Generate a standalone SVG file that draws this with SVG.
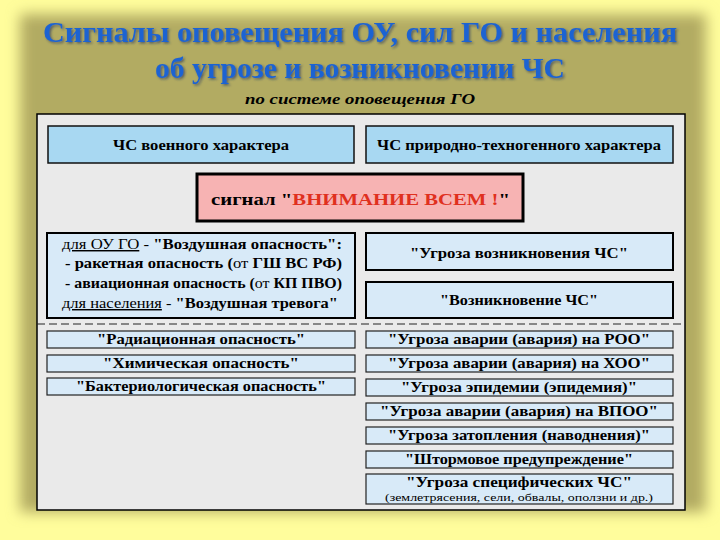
<svg xmlns="http://www.w3.org/2000/svg" width="720" height="540" viewBox="0 0 720 540">
<defs>
<filter id="blur" x="-10%" y="-10%" width="120%" height="120%"><feGaussianBlur stdDeviation="7"/></filter>
<filter id="tsh" x="-5%" y="-20%" width="110%" height="150%"><feDropShadow dx="1.5" dy="1.5" stdDeviation="1" flood-color="#1a2a60" flood-opacity="0.6"/></filter>
<style>
text{font-family:"Liberation Serif","DejaVu Serif","Times New Roman",serif;fill:#000;}
.b{font-weight:bold;}
.hdr{fill:#A8D8F2;stroke:#111;stroke-width:1.5;}
.big{fill:#D8EAF8;stroke:#000;stroke-width:2;}
.row{fill:#D8EAF8;stroke:#222;stroke-width:1.2;}
.c{text-anchor:middle;}
.ttl{fill:#1F63D2;}
</style>
</defs>
<rect width="720" height="540" fill="#FFFD9C"/>
<rect x="20" y="14" width="686" height="498" fill="#B2AB62" filter="url(#blur)"/>
<g id="title" font-family="Liberation Serif, DejaVu Serif, serif">
<text class="b c ttl" x="360" y="42" font-size="29" filter="url(#tsh)" textLength="634" lengthAdjust="spacingAndGlyphs">Сигналы  оповещения  ОУ,  сил  ГО  и  населения</text>
<text class="b c ttl" x="360" y="78" font-size="29" filter="url(#tsh)" textLength="410" lengthAdjust="spacingAndGlyphs">об  угрозе  и  возникновении  ЧС</text>
<text class="b c" x="360" y="104" font-size="14" font-style="italic" textLength="230" lengthAdjust="spacingAndGlyphs">по  системе  оповещения  ГО</text>
</g>
<rect id="panel" x="37" y="114" width="648" height="396" fill="#EAEAEA" stroke="#000" stroke-width="1.5"/>
<g id="connectors">
<line x1="37" y1="324" x2="685" y2="324" stroke="#222" stroke-width="1.2" stroke-dasharray="8,4"/>
</g>
<g id="hdr-military">
<rect class="hdr" x="48" y="126" width="306" height="37"/>
<text class="b c" x="201" y="150" font-size="14" textLength="176" lengthAdjust="spacingAndGlyphs">ЧС  военного  характера</text>
</g>
<g id="hdr-natural">
<rect class="hdr" x="366" y="126" width="307" height="37"/>
<text class="b c" x="519" y="150" font-size="14" textLength="284" lengthAdjust="spacingAndGlyphs">ЧС  природно-техногенного  характера</text>
</g>
<g id="signal">
<rect x="197" y="174" width="326" height="47" fill="#F7B3B3" stroke="#000" stroke-width="3"/>
<text class="b" x="211" y="205" font-size="17" textLength="299" lengthAdjust="spacingAndGlyphs">сигнал  "<tspan style="fill:#E0301E">ВНИМАНИЕ  ВСЕМ !</tspan>"</text>
</g>
<g id="air">
<rect class="big" x="47" y="233" width="308" height="85"/>
<text x="62" y="249" font-size="14.5" textLength="280" lengthAdjust="spacingAndGlyphs"><tspan text-decoration="underline">для ОУ ГО</tspan>  - <tspan font-weight="bold">"Воздушная  опасность":</tspan></text>
<text class="b" x="65" y="268" font-size="14.5" textLength="277" lengthAdjust="spacingAndGlyphs">- ракетная  опасность  (<tspan font-weight="normal">от</tspan>  ГШ ВС РФ)</text>
<text class="b" x="65" y="288" font-size="14.5" textLength="277" lengthAdjust="spacingAndGlyphs">- авиационная опасность (<tspan font-weight="normal">от</tspan> КП ПВО)</text>
<text x="62" y="308" font-size="14.5" textLength="276" lengthAdjust="spacingAndGlyphs"><tspan text-decoration="underline">для населения</tspan>  - <tspan font-weight="bold">"Воздушная тревога"</tspan></text>
</g>
<g id="threat">
<rect class="big" x="366" y="233" width="307" height="37"/>
<text class="b c" x="519" y="258" font-size="14" textLength="218" lengthAdjust="spacingAndGlyphs">"Угроза  возникновения  ЧС"</text>
</g>
<g id="occurrence">
<rect class="big" x="366" y="282" width="307" height="36"/>
<text class="b c" x="519" y="305" font-size="14" textLength="158" lengthAdjust="spacingAndGlyphs">"Возникновение  ЧС"</text>
</g>
<g id="l1"><rect class="row" x="47" y="331" width="308" height="17"/><text class="b c" x="201" y="344" font-size="14" textLength="208" lengthAdjust="spacingAndGlyphs">"Радиационная  опасность"</text></g>
<g id="l2"><rect class="row" x="47" y="355" width="308" height="17"/><text class="b c" x="201" y="368" font-size="14" textLength="196" lengthAdjust="spacingAndGlyphs">"Химическая  опасность"</text></g>
<g id="l3"><rect class="row" x="47" y="378" width="308" height="17"/><text class="b c" x="201" y="391" font-size="14" textLength="250" lengthAdjust="spacingAndGlyphs">"Бактериологическая  опасность"</text></g>
<g id="r1"><rect class="row" x="366" y="331" width="307" height="17"/><text class="b c" x="519" y="344" font-size="14" textLength="262" lengthAdjust="spacingAndGlyphs">"Угроза  аварии  (авария)  на  РОО"</text></g>
<g id="r2"><rect class="row" x="366" y="355" width="307" height="17"/><text class="b c" x="519" y="368" font-size="14" textLength="262" lengthAdjust="spacingAndGlyphs">"Угроза  аварии  (авария)  на  ХОО"</text></g>
<g id="r3"><rect class="row" x="366" y="379" width="307" height="17"/><text class="b c" x="519" y="392" font-size="14" textLength="236" lengthAdjust="spacingAndGlyphs">"Угроза  эпидемии  (эпидемия)"</text></g>
<g id="r4"><rect class="row" x="366" y="403" width="307" height="17"/><text class="b c" x="519" y="416" font-size="14" textLength="278" lengthAdjust="spacingAndGlyphs">"Угроза  аварии  (авария)  на  ВПОО"</text></g>
<g id="r5"><rect class="row" x="366" y="427" width="307" height="17"/><text class="b c" x="519" y="440" font-size="14" textLength="262" lengthAdjust="spacingAndGlyphs">"Угроза  затопления  (наводнения)"</text></g>
<g id="r6"><rect class="row" x="366" y="451" width="307" height="17"/><text class="b c" x="519" y="464" font-size="14" textLength="228" lengthAdjust="spacingAndGlyphs">"Штормовое  предупреждение"</text></g>
<g id="r7"><rect class="row" x="366" y="474" width="307" height="30"/>
<text class="b c" x="519" y="487" font-size="14" textLength="226" lengthAdjust="spacingAndGlyphs">"Угроза  специфических  ЧС"</text>
<text class="c" x="519" y="501" font-size="11" textLength="268" lengthAdjust="spacingAndGlyphs">(землетрясения, сели, обвалы, оползни и др.)</text></g>
</svg>
